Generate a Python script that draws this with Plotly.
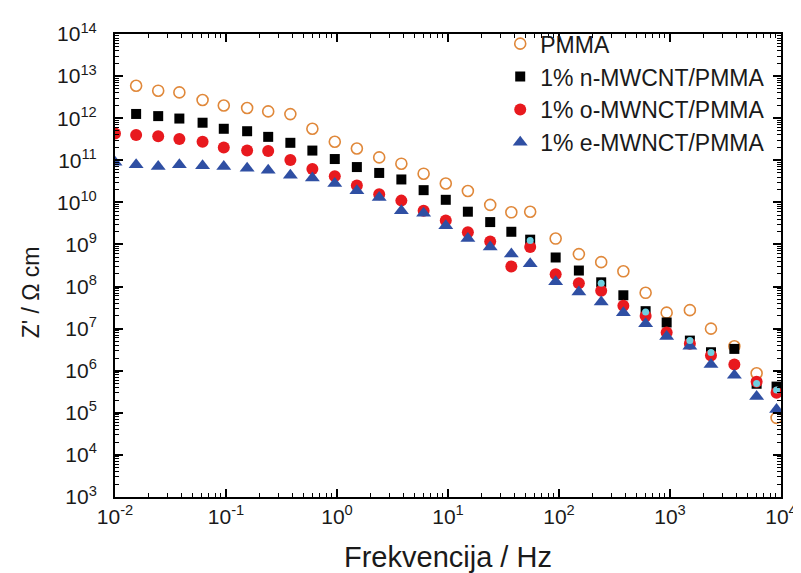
import plotly.graph_objects as go

# Frequencies (Hz) of the measured points
freq = [0.0155, 0.0245, 0.038, 0.0615, 0.0955, 0.155, 0.24, 0.38, 0.60, 0.955,
        1.51, 2.40, 3.80, 6.03, 9.55, 15.1, 24.0, 37.2, 55.0, 93.3,
        151, 240, 380, 603, 933, 1510, 2340, 3800, 6030, 9120]
freq_ext = [0.01] + freq  # series that also have a point at 0.01 Hz

pmma = [5.9e12, 4.5e12, 4.1e12, 2.7e12, 2.0e12, 1.75e12, 1.45e12, 1.25e12, 5.6e11, 2.75e11,
        1.9e11, 1.17e11, 8.3e10, 4.8e10, 2.8e10, 1.86e10, 8.7e9, 5.8e9, 6.0e9, 1.38e9,
        5.9e8, 3.8e8, 2.3e8, 7.1e7, 2.4e7, 2.75e7, 1.0e7, 3.8e6, 8.7e5, 7.6e4]

n_mwcnt = [1.26e12, 1.12e12, 9.8e11, 7.8e11, 5.6e11, 4.9e11, 3.6e11, 2.6e11, 1.7e11, 1.07e11,
           6.9e10, 5.0e10, 3.5e10, 1.95e10, 1.15e10, 6.0e9, 3.4e9, 2.0e9, 1.3e9, 4.9e8,
           2.4e8, 1.26e8, 6.2e7, 2.6e7, 1.4e7, 5.2e6, 2.75e6, 3.3e6, 4.9e5, 4.2e5]

o_mwnct = [4.3e11, 4.0e11, 3.7e11, 3.2e11, 2.75e11, 2.0e11, 1.7e11, 1.66e11, 1.02e11, 6.2e10,
           4.2e10, 2.5e10, 1.55e10, 1.1e10, 6.3e9, 3.7e9, 1.95e9, 1.17e9, 3.0e8, 8.7e8,
           1.95e8, 1.2e8, 7.9e7, 3.5e7, 2.0e7, 8.1e6, 4.4e6, 2.3e6, 1.4e6, 5.5e5, 3.0e5]

e_mwnct = [9.0e10, 7.8e10, 7.1e10, 7.8e10, 7.4e10, 7.1e10, 6.5e10, 5.8e10, 4.4e10, 3.8e10,
           2.8e10, 1.9e10, 1.3e10, 6.3e9, 5.5e9, 2.8e9, 1.38e9, 8.7e8, 5.9e8, 3.5e8,
           1.3e8, 7.4e7, 4.3e7, 2.4e7, 1.3e7, 6.5e6, 3.8e6, 1.4e6, 7.8e5, 2.45e5, 1.2e5]

# extra light-cyan markers visible at some high-frequency points
cyan_freq = [55.0, 240, 603, 1510, 2340, 6030, 9120]
cyan_vals = [1.25e9, 1.2e8, 2.5e7, 5.2e6, 2.7e6, 5.0e5, 3.5e5]

names = ["PMMA", "1% n-MWCNT/PMMA", "1% o-MWNCT/PMMA", "1% e-MWNCT/PMMA"]

x_tickvals = [0.01, 0.1, 1, 10, 100, 1000, 10000]
x_ticktext = ["10<sup>-2</sup>", "10<sup>-1</sup>", "10<sup>0</sup>", "10<sup>1</sup>",
              "10<sup>2</sup>", "10<sup>3</sup>", "10<sup>4</sup>"]
y_exps = list(range(3, 15))
y_tickvals = [10.0 ** e for e in y_exps]
y_ticktext = ["10<sup>%d</sup>" % e for e in y_exps]

FONT = "Liberation Sans, Arial, sans-serif"

fig = go.Figure()
fig.add_trace(go.Scatter(x=freq, y=pmma, mode="markers", name=names[0],
                         marker=dict(symbol="circle-open", size=11, color="#e0883a",
                                     line=dict(width=1.6, color="#e0883a"))))
fig.add_trace(go.Scatter(x=freq, y=n_mwcnt, mode="markers", name=names[1],
                         marker=dict(symbol="square", size=10, color="#000000")))
fig.add_trace(go.Scatter(x=freq_ext, y=o_mwnct, mode="markers", name=names[2],
                         marker=dict(symbol="circle", size=12, color="#e8191e")))
fig.add_trace(go.Scatter(x=freq_ext, y=e_mwnct, mode="markers", name=names[3],
                         marker=dict(symbol="triangle-up", size=13, color="#2f4fa3")))
fig.add_trace(go.Scatter(x=cyan_freq, y=cyan_vals, mode="markers", showlegend=False,
                         marker=dict(symbol="circle", size=7, color="#6fcfe0")))

axis_common = dict(
    showline=True, linecolor="black", linewidth=2, mirror="allticks",
    ticks="inside", ticklen=8, tickwidth=1.5, tickcolor="black",
    showgrid=False, zeroline=False,
    tickfont=dict(family=FONT, size=21, color="#1a1a1a"),
    minor=dict(ticks="inside", ticklen=4, tickwidth=1, tickcolor="black",
               dtick="D1", showgrid=False),
)

fig.update_xaxes(type="log", range=[-2, 4], tickmode="array",
                 tickvals=x_tickvals, ticktext=x_ticktext, **axis_common)
fig.update_yaxes(type="log", range=[3, 14], tickmode="array",
                 tickvals=y_tickvals, ticktext=y_ticktext, ticklabelstandoff=12,
                 **axis_common)

fig.add_annotation(text="Frekvencija / Hz", xref="paper", yref="paper",
                   x=(445 - 107) / 676, y=-(550 - 489) / 470, xanchor="center", yanchor="middle",
                   showarrow=False, font=dict(family=FONT, size=29, color="#1a1a1a"))
fig.add_annotation(text="Z' / \u03a9 cm", xref="paper", yref="paper",
                   x=-(107 - 22) / 676, y=1 - (281 - 19) / 470, xanchor="center", yanchor="middle",
                   textangle=-90, showarrow=False, font=dict(family=FONT, size=23, color="#1a1a1a"))

fig.update_layout(
    width=801, height=573,
    margin=dict(l=107, r=18, t=19, b=84),
    paper_bgcolor="white", plot_bgcolor="white",
    showlegend=True,
    legend=dict(x=(498 - 107) / 676, y=1 + (19 - 7) / 470, xanchor="left", yanchor="top",
                bgcolor="rgba(0,0,0,0)", font=dict(family=FONT, size=23, color="#1a1a1a"),
                tracegroupgap=0),
)

fig.write_html("out.html")
